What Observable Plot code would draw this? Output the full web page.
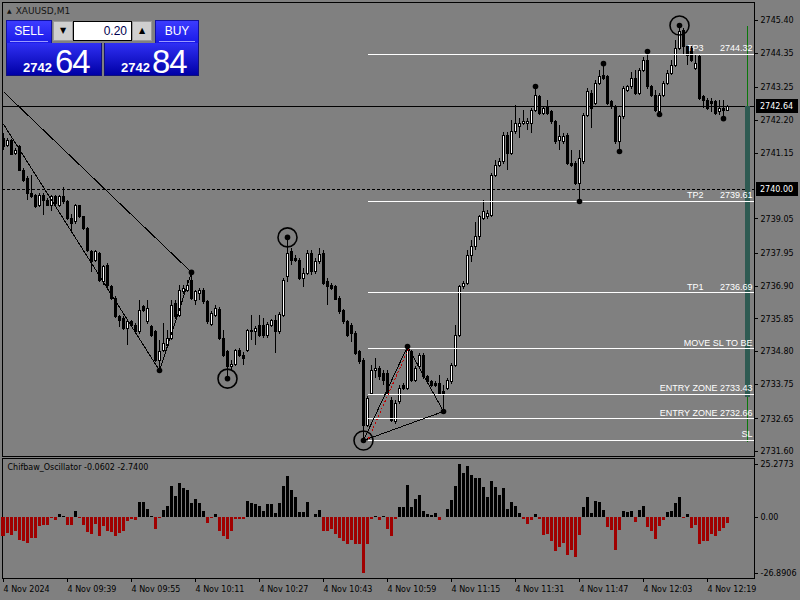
<!DOCTYPE html>
<html>
<head>
<meta charset="utf-8">
<script src="https://cdn.jsdelivr.net/npm/d3@7"></script>
<script src="https://cdn.jsdelivr.net/npm/@observablehq/plot@0.6"></script>
<style>
html,body{margin:0;padding:0;background:#808080;}
#wrap{position:relative;width:800px;height:600px;background:#808080;overflow:hidden;}
#main,#osc{position:absolute;left:0;}
#main{top:0;}
#osc{top:457px;}
.abs{position:absolute;box-sizing:border-box;}
#sym{left:7px;top:5px;font:9px "DejaVu Sans",sans-serif;color:#141414;white-space:nowrap;line-height:12px;}
#sym .tri{font-size:6px;position:relative;top:-1px;margin-right:4px;}
.btn{top:20px;height:23px;background:linear-gradient(#3c3cff,#1a1ae8);border:1px solid #1010a0;border-bottom:none;color:#fff;font:12px "Liberation Sans",sans-serif;text-align:center;line-height:20px;}
.btn .ul{position:absolute;left:3px;right:3px;bottom:1px;height:1px;background:#9a9aff;}
#sell{left:6px;width:46px;}
#buy{left:155px;width:44px;}
.px{top:43px;height:33px;background:linear-gradient(#3030f4,#0000a6);border:1px solid #10107a;border-top:none;color:#fff;font-family:"Liberation Sans",sans-serif;}
#sellPx{left:6px;width:96px;}
#buyPx{left:104px;width:95px;}
.px .sm{position:absolute;font-weight:bold;font-size:13px;line-height:13px;top:18px;}
.px .lg{position:absolute;font-size:33px;line-height:33px;letter-spacing:-1px;top:2px;}
.arr{top:21px;width:20px;height:20px;background:#cfcfcf;border:1px solid #9a9a9a;font:8px "DejaVu Sans",sans-serif;text-align:center;line-height:18px;color:#000;}
#dn{left:53px;}
#up{left:132px;}
#lot{left:73px;top:21px;width:59px;height:20px;background:#fff;border:1px solid #000;font:12px "Liberation Sans",sans-serif;color:#000050;text-align:right;padding-right:4px;line-height:18px;}
</style>
</head>
<body>
<div id="wrap">
  <div id="main"></div>
  <div id="osc"></div>
  <div id="sym" class="abs"><span class="tri">▲</span>XAUUSD,M1</div>
  <div id="sell" class="abs btn">SELL<div class="ul"></div></div>
  <div id="dn" class="abs arr">▼</div>
  <div id="lot" class="abs">0.20</div>
  <div id="up" class="abs arr">▲</div>
  <div id="buy" class="abs btn">BUY<div class="ul"></div></div>
  <div id="sellPx" class="abs px"><span class="sm" style="left:16px">2742</span><span class="lg" style="left:48px">64</span></div>
  <div id="buyPx" class="abs px"><span class="sm" style="left:16px">2742</span><span class="lg" style="left:47px">84</span></div>
</div>
<script>
// ---------- DATA (XAUUSD M1, bars from 09:23, index 0..181) ----------
const opens = [
2741.62,2741.40,2741.56,2741.14,2741.34,2740.60,2740.34,2739.86,2739.80,2739.48,
2739.80,2739.64,2739.48,2739.74,2739.48,2739.74,2739.58,2739.06,2738.94,2739.45,
2739.10,2738.74,2737.98,2737.72,2737.94,2737.02,2737.56,2736.86,2736.50,2735.90,
2735.86,2735.54,2735.74,2735.64,2735.42,2736.22,2735.74,2735.58,2735.42,2734.52,
2734.84,2735.00,2735.22,2736.34,2735.96,2736.70,2736.76,2737.08,2736.44,2736.66,
2736.76,2736.38,2735.67,2735.96,2736.15,2735.22,2734.78,2734.30,2734.39,2734.84,
2734.68,2734.84,2735.48,2735.42,2735.64,2735.64,2735.29,2735.64,2735.80,2735.42,
2735.96,2737.18,2737.98,2737.78,2737.69,2737.14,2737.30,2737.94,2737.34,2737.66,
2737.94,2737.02,2736.92,2736.86,2736.50,2736.09,2735.74,2735.64,2735.38,2734.78,
2734.52,2732.44,2733.46,2734.20,2734.26,2734.10,2734.10,2733.24,2732.54,2733.18,
2733.72,2733.62,2734.78,2733.88,2734.30,2734.68,2733.98,2733.82,2733.78,2733.78,
2733.50,2733.62,2733.82,2734.36,2735.32,2736.86,2736.98,2737.88,2738.14,2738.46,
2739.06,2739.10,2739.16,2740.44,2740.76,2740.86,2741.72,2741.14,2741.82,2741.98,
2742.10,2742.10,2742.10,2742.52,2742.94,2742.42,2742.62,2742.46,2742.14,2741.56,
2741.50,2741.72,2740.82,2740.82,2740.18,2740.86,2742.36,2743.06,2742.74,2743.38,
2743.64,2743.58,2742.78,2742.62,2741.50,2742.30,2743.16,2743.26,2743.54,2743.06,
2743.80,2744.12,2743.26,2743.00,2742.46,2743.00,2743.38,2743.70,2743.96,2744.50,
2745.08,2744.54,2744.50,2743.86,2744.22,2742.94,2742.84,2742.78,2742.78,2742.46,
2742.58,2742.52];
const highs = [
2741.78,2741.62,2741.59,2741.30,2741.40,2740.66,2740.41,2740.44,2739.83,2739.86,
2739.86,2739.70,2739.80,2739.80,2739.80,2740.06,2739.64,2739.19,2739.51,2739.48,
2739.13,2738.78,2738.04,2738.04,2737.98,2737.56,2737.62,2736.92,2736.57,2735.96,
2735.93,2735.80,2735.80,2735.70,2736.44,2736.28,2736.44,2735.64,2735.48,2735.16,
2735.70,2735.48,2736.44,2736.44,2736.92,2736.92,2737.08,2737.34,2736.76,2736.82,
2736.82,2736.44,2736.09,2736.28,2736.22,2735.48,2734.84,2734.52,2734.87,2734.90,
2734.78,2735.51,2735.96,2735.61,2735.96,2735.86,2735.74,2735.83,2735.96,2736.06,
2737.14,2738.46,2738.10,2737.88,2737.78,2737.46,2738.04,2738.04,2737.78,2738.10,
2738.04,2737.14,2736.98,2736.92,2736.57,2736.15,2735.80,2735.70,2735.45,2734.84,
2734.58,2733.37,2734.36,2734.58,2734.33,2734.20,2734.20,2733.34,2733.24,2733.72,
2733.78,2734.97,2734.84,2734.33,2734.74,2734.74,2734.04,2733.88,2733.85,2734.04,
2733.72,2733.94,2734.42,2735.64,2736.92,2737.05,2738.04,2738.36,2738.94,2739.16,
2739.64,2739.32,2740.50,2740.92,2740.98,2741.82,2741.82,2742.20,2742.68,2742.26,
2742.52,2742.26,2742.58,2743.29,2743.00,2742.65,2742.84,2742.52,2742.20,2742.04,
2741.78,2741.78,2741.24,2740.89,2741.24,2742.42,2743.22,2743.16,2743.48,2743.80,
2744.02,2743.64,2742.84,2742.68,2742.36,2743.29,2743.32,2743.74,2743.80,2743.86,
2744.22,2744.41,2743.32,2743.16,2743.06,2743.45,2743.80,2744.12,2744.76,2745.24,
2745.14,2744.60,2744.57,2744.28,2744.28,2743.00,2742.90,2742.90,2742.84,2742.84,
2742.84,2742.68];
const lows = [
2741.24,2741.34,2741.08,2741.08,2740.57,2740.22,2739.64,2739.70,2739.38,2739.42,
2739.16,2739.45,2739.29,2739.48,2739.42,2739.51,2739.00,2738.62,2738.87,2739.06,
2738.68,2737.98,2737.34,2737.66,2737.02,2736.92,2736.76,2736.44,2735.86,2735.58,
2735.48,2735.00,2735.58,2735.35,2735.35,2736.06,2735.67,2735.26,2734.46,2734.20,
2734.78,2734.90,2735.16,2735.83,2735.90,2736.63,2736.70,2736.44,2736.28,2736.44,
2736.31,2735.67,2735.61,2735.90,2735.16,2734.62,2733.94,2734.20,2734.33,2734.62,
2734.36,2734.78,2735.16,2735.00,2735.26,2735.22,2735.22,2735.58,2734.74,2735.35,
2735.90,2737.02,2737.56,2737.66,2737.08,2736.86,2737.24,2737.24,2737.27,2737.59,
2736.92,2736.28,2736.76,2736.44,2735.99,2735.67,2735.26,2735.10,2734.68,2734.39,
2731.96,2732.38,2733.40,2733.94,2733.88,2733.72,2733.40,2732.54,2732.47,2733.11,
2733.56,2733.56,2733.82,2733.82,2734.23,2733.91,2733.75,2733.66,2733.66,2733.40,
2732.89,2733.56,2733.75,2734.30,2735.26,2736.79,2736.92,2737.66,2738.04,2738.36,
2739.00,2739.03,2739.10,2740.38,2740.70,2740.79,2740.60,2741.08,2741.75,2741.62,
2742.04,2741.88,2741.78,2742.46,2742.36,2742.36,2742.36,2742.07,2741.43,2741.24,
2741.43,2740.76,2740.70,2740.12,2739.61,2740.79,2742.30,2741.94,2742.68,2743.32,
2743.48,2742.68,2742.55,2741.43,2741.21,2742.23,2743.10,2743.19,2743.00,2743.00,
2743.74,2743.19,2742.94,2742.46,2742.39,2742.94,2743.32,2743.64,2743.90,2744.44,
2744.28,2743.96,2744.06,2743.80,2742.84,2742.58,2742.52,2742.46,2742.36,2742.36,
2742.26,2742.49];
const closes = [
2741.34,2741.53,2741.11,2741.24,2740.60,2740.28,2739.86,2739.74,2739.42,2739.80,
2739.64,2739.48,2739.74,2739.54,2739.74,2739.58,2739.06,2738.90,2739.45,2739.10,
2738.74,2738.01,2737.66,2737.98,2737.08,2737.50,2736.92,2736.50,2735.90,2735.80,
2735.54,2735.74,2735.64,2735.42,2736.12,2736.12,2736.18,2735.32,2734.52,2734.78,
2735.06,2735.22,2736.28,2735.90,2736.76,2736.82,2736.92,2736.50,2736.70,2736.76,
2736.38,2735.74,2736.02,2736.18,2735.22,2734.68,2734.30,2734.39,2734.81,2734.68,
2734.58,2735.45,2735.42,2735.54,2735.32,2735.29,2735.67,2735.77,2735.42,2735.99,
2737.08,2737.94,2737.72,2737.72,2737.14,2737.30,2737.94,2737.34,2737.66,2737.91,
2736.98,2736.86,2736.82,2736.47,2736.06,2735.74,2735.32,2735.38,2734.74,2734.46,
2732.44,2733.30,2734.20,2734.26,2733.98,2733.88,2733.46,2732.60,2733.14,2733.62,
2733.62,2734.84,2733.88,2734.26,2734.68,2733.98,2733.82,2733.72,2733.72,2733.46,
2733.46,2733.88,2734.36,2735.32,2736.86,2736.98,2737.88,2738.14,2738.46,2739.10,
2739.26,2739.22,2740.44,2740.76,2740.86,2741.72,2741.14,2741.82,2742.10,2742.10,
2742.14,2742.14,2742.52,2743.00,2742.42,2742.58,2742.42,2742.14,2741.50,2741.66,
2741.66,2740.82,2740.76,2740.18,2740.98,2742.36,2743.10,2742.58,2743.38,2743.58,
2743.54,2742.74,2742.62,2741.50,2742.30,2743.22,2743.26,2743.54,2743.06,2743.80,
2744.12,2743.26,2743.00,2742.52,2743.00,2743.38,2743.70,2743.96,2744.50,2745.02,
2744.54,2744.28,2744.12,2744.02,2742.90,2742.84,2742.58,2742.74,2742.42,2742.58,
2742.52,2742.64];
const oscValues = [
-9.4,-7.8,-8.9,-6.7,-11.0,-11.5,-12.3,-10.2,-10.2,-4.6,
-4.1,-4.1,-0.8,-1.6,1.3,0.5,-4.1,-3.8,2.9,-0.6,
-4.1,-7.5,-8.0,-3.3,-9.4,-4.6,-6.7,-7.3,-9.4,-7.7,
-6.7,-1.9,-1.1,-1.4,7.3,6.9,3.7,0.5,-5.7,-0.8,
3.3,5.4,14.8,10.2,16.3,14.0,12.9,6.5,8.6,6.5,
3.0,-3.0,-0.6,1.3,-6.7,-9.1,-10.5,-6.7,-1.0,-1.1,
-1.1,7.7,6.5,6.1,5.4,2.9,6.1,6.1,1.8,6.5,
14.8,19.6,12.9,9.7,2.2,2.2,6.9,-0.3,1.3,3.3,
-6.7,-6.7,-5.7,-8.3,-10.2,-11.5,-12.9,-11.0,-12.9,-12.9,
-26.8906,-13.1,-1.1,0.5,-1.6,0.5,-5.9,-9.4,-1.1,4.9,
4.9,15.0,4.5,8.5,10.5,2.6,1.3,1.0,1.6,-1.4,
-0.3,3.8,8.1,14.8,25.2773,20.9,24.4,19.8,18.5,18.8,
14.5,9.7,17.2,14.5,10.5,13.7,3.7,7.3,5.3,1.8,
-1.0,-3.3,-1.4,1.4,-1.1,-8.6,-8.1,-11.8,-16.6,-14.5,
-12.6,-18.5,-16.1,-19.0,-8.9,4.9,9.3,1.9,7.7,7.3,
3.3,-5.1,-6.2,-16.1,-6.2,2.6,2.1,2.9,-2.7,3.3,
5.3,-4.9,-7.0,-10.7,-4.6,-1.4,2.1,2.9,6.5,9.3,
-0.6,1.4,-5.4,-4.1,-13.1,-11.8,-11.8,-8.1,-9.4,-7.0,
-5.4,-2.74];

const priceTicks = [2745.40,2744.35,2743.25,2742.20,2741.15,2739.05,2737.95,2736.90,2735.85,2734.80,2733.75,2732.65,2731.60];
const boxPrices = [2742.64, 2740.00];
const currentPrice = 2742.64;
const roundLevel = 2740.00;

const oscTicks = [25.2773, 0, -26.8906];
const oscTickLabels = ["25.2773", "0.00", "-26.8906"];
const oscTitle = "Chifbaw_Oscillator -0.0602 -2.7400";

const timeTickBars = [0,16,32,48,64,80,96,112,128,144,160,176];
const timeTickLabels = ["4 Nov 2024","4 Nov 09:39","4 Nov 09:55","4 Nov 10:11","4 Nov 10:27","4 Nov 10:43","4 Nov 10:59","4 Nov 11:15","4 Nov 11:31","4 Nov 11:47","4 Nov 12:03","4 Nov 12:19"];

const levelPrices = [2744.32, 2739.61, 2736.69, 2734.90, 2733.43, 2732.66, 2731.96];
const levelTags   = ["TP3", "TP2", "TP1", "", "", "", ""];
const levelTexts  = ["2744.32", "2739.61", "2736.69", "MOVE SL TO BE", "ENTRY ZONE 2733.43", "ENTRY ZONE 2732.66", "SL"];
const levelStartBar = 91;

const swingBars  = [39,47,56,71,90,101,110,133,144,150,154,161,164,169,180];
const swingSides = ["low","high","low","high","low","high","low","high","low","high","low","high","low","high","low"];
const ringedBars = [56,71,90,169];

const trendStartBar   = [0, 0, 39, 90, 101, 90];
const trendStartPrice = [2743.12, 2742.08, 2734.20, 2731.96, 2734.97, 2731.96];
const trendEndBar     = [47, 39, 47, 101, 110, 110];
const trendEndPrice   = [2737.34, 2734.20, 2737.34, 2734.97, 2732.89, 2732.89];
const dottedBars   = [91.25, 101.25];
const dottedPrices = [2732.02, 2734.90];

const gaugeRange = [2731.90, 2745.21];
const gaugeBar   = [2733.34, 2742.64];

// ---------- BUILD ----------
const candles = opens.map((o, i) => ({i, o, h: highs[i], l: lows[i], c: closes[i]}));
const bulls = candles.filter(d => d.c > d.o);
const bears = candles.filter(d => d.c <= d.o);
const swings = swingBars.map((b, k) => ({i: b, p: swingSides[k] === "high" ? highs[b] : lows[b]}));
const rings = swings.filter(d => ringedBars.includes(d.i));
const trends = trendStartBar.map((b, k) => ({x1: b, y1: trendStartPrice[k], x2: trendEndBar[k], y2: trendEndPrice[k]}));
const dotted = [{x1: dottedBars[0], y1: dottedPrices[0], x2: dottedBars[1], y2: dottedPrices[1]}];
const levels = levelPrices.map((p, k) => ({price: p, tag: levelTags[k], text: levelTexts[k]}));
const oscRows = oscValues.map((v, i) => ({i, v}));
const lastBar = opens.length - 1;

const baseStyle = {background: "transparent", fontFamily: "DejaVu Sans", fontSize: "8px", color: "#000", overflow: "visible", shapeRendering: "crispEdges"};
const levelFont = "Liberation Sans";

function levelLinesMark(index, scales, values, dims) {
  const g = d3.create("svg:g").attr("stroke", "#ffffff").attr("transform", "translate(0.5,0.5)");
  const xr = dims.width - dims.marginRight - 1;
  for (const p of levelPrices) {
    const y = Math.round(scales.y(p));
    g.append("line").attr("x1", Math.round(scales.x(levelStartBar))).attr("x2", xr).attr("y1", y).attr("y2", y);
  }
  return g.node();
}
function gaugeMark(index, scales, values, dims) {
  const g = d3.create("svg:g");
  const xc = dims.width - dims.marginRight - 6.5;
  g.append("line").attr("x1", xc).attr("x2", xc)
    .attr("y1", scales.y(gaugeRange[1])).attr("y2", scales.y(gaugeRange[0]))
    .attr("stroke", "#0a780a");
  g.append("rect").attr("x", xc - 2.5).attr("width", 5)
    .attr("y", scales.y(gaugeBar[1])).attr("height", scales.y(gaugeBar[0]) - scales.y(gaugeBar[1]))
    .attr("fill", "#2e5a52");
  return g.node();
}
function priceBoxMark(index, scales, values, dims) {
  const g = d3.create("svg:g");
  const x0 = dims.width - dims.marginRight + 2;
  for (const p of boxPrices) {
    const y = Math.round(scales.y(p));
    g.append("rect").attr("x", x0).attr("y", y - 7).attr("width", 42).attr("height", 14).attr("fill", "#000");
    g.append("text").attr("x", x0 + 4).attr("y", y).attr("dy", "0.34em").attr("fill", "#fff")
      .attr("text-anchor", "start")
      .attr("font-size", 8).attr("font-family", "DejaVu Sans").text(p.toFixed(2));
  }
  return g.node();
}

const mainPlot = Plot.plot({
  width: 800, height: 458,
  marginLeft: 2, marginRight: 46, marginTop: 2, marginBottom: 2,
  style: baseStyle,
  x: {domain: [0, lastBar], range: [3, 727], axis: null, label: null},
  y: {domain: [2731.60, 2745.40], range: [451.25, 20], label: null},
  marks: [
    Plot.frame({stroke: "#000"}),
    Plot.ruleY([roundLevel], {stroke: "#000", strokeDasharray: "3,2"}),
    Plot.ruleY([currentPrice], {stroke: "#000"}),
    gaugeMark,
    Plot.ruleX(candles, {x: "i", y1: "l", y2: "h", stroke: "#000"}),
    Plot.rect(bears, {x1: d => d.i - 0.25, x2: d => d.i + 0.25, y1: "o", y2: "c", fill: "#000", stroke: "#000"}),
    Plot.rect(bulls, {x1: d => d.i - 0.25, x2: d => d.i + 0.25, y1: "o", y2: "c", fill: "#fff", stroke: "#000"}),
    levelLinesMark,
    Plot.link(trends, {x1: "x1", y1: "y1", x2: "x2", y2: "y2", stroke: "#000", strokeWidth: 1}),
    Plot.link(dotted, {x1: "x1", y1: "y1", x2: "x2", y2: "y2", stroke: "#c00000", strokeWidth: 1, strokeDasharray: "2,2"}),
    Plot.dot(swings, {x: "i", y: "p", r: 2.8, fill: "#000", shapeRendering: "geometricPrecision"}),
    Plot.dot(rings, {x: "i", y: "p", r: 9.5, fill: "none", stroke: "#000", strokeWidth: 1.6, shapeRendering: "geometricPrecision"}),
    Plot.text(levels, {y: "price", text: "text", frameAnchor: "right", textAnchor: "end", dx: -2, dy: -6, fill: "#ffffff", fontFamily: levelFont, fontSize: 9}),
    Plot.text(levels.filter(d => d.tag), {y: "price", text: "tag", frameAnchor: "right", textAnchor: "end", dx: -51, dy: -6, fill: "#ffffff", fontFamily: levelFont, fontSize: 9}),
    Plot.axisY(priceTicks, {anchor: "right", tickSize: 3, tickPadding: 3, tickFormat: d => d.toFixed(2), label: null}),
    priceBoxMark
  ]
});
document.getElementById("main").appendChild(mainPlot);

const oscPlot = Plot.plot({
  width: 800, height: 143,
  marginLeft: 2, marginRight: 46, marginTop: 1, marginBottom: 22,
  style: baseStyle,
  x: {domain: [0, lastBar], range: [3, 727], label: null},
  y: {domain: [-26.8906, 25.2773], range: [116, 7], label: null},
  marks: [
    Plot.frame({stroke: "#000"}),
    Plot.rect(oscRows.filter(d => d.v >= 0), {x1: d => d.i - 0.375, x2: d => d.i + 0.375, y1: () => 0, y2: "v", fill: "#000"}),
    Plot.rect(oscRows.filter(d => d.v < 0), {x1: d => d.i - 0.375, x2: d => d.i + 0.375, y1: () => 0, y2: "v", fill: "#a00000"}),
    Plot.axisY(oscTicks, {anchor: "right", tickSize: 3, tickPadding: 3, tickFormat: d => oscTickLabels[oscTicks.indexOf(d)], label: null}),
    Plot.axisX(timeTickBars, {anchor: "bottom", tickSize: 4, tickPadding: 4, textAnchor: "start", tickFormat: d => timeTickLabels[timeTickBars.indexOf(d)], label: null}),
    Plot.text([oscTitle], {text: d => d, frameAnchor: "top-left", dx: 5, dy: 8.5, lineAnchor: "middle", textAnchor: "start", fill: "#000"})
  ]
});
document.getElementById("osc").appendChild(oscPlot);
</script>
</body>
</html>
